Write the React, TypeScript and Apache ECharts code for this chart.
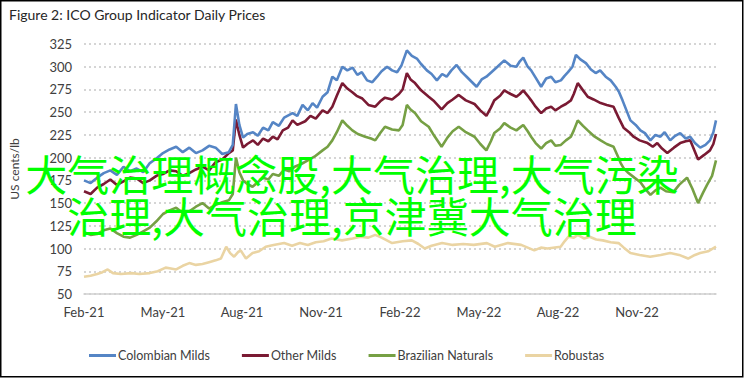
import React, { useEffect, useRef } from "react";
import * as echarts from "echarts";

const titleText = "Figure 2: ICO Group Indicator Daily Prices";
const yAxisName = "US cents/lb";
const overlayText = "大气治理概念股,大气治理,大气污染\n治理,大气治理,京津冀大气治理";
const seriesNames = ["Colombian Milds", "Other Milds", "Brazilian Naturals", "Robustas"];
const seriesColors = ["#5585C5", "#7A1A33", "#76A044", "#EAD4A3"];
// x tick labels: one every 3 months, x value = months since Feb-21
const xTickLabels = ["Feb-21", "May-21", "Aug-21", "Nov-21", "Feb-22", "May-22", "Aug-22", "Nov-22", "Feb-23"];

const colombianMilds: [number, number][] = [
  [0,175],[0.25,172],[0.5,178],[0.75,183],[1,186],[1.25,181],[1.5,190],[1.75,185],[2,188],[2.25,184],[2.5,194],[2.75,199],[3,205],[3.25,209],[3.5,212],[3.75,206],[4,211],[4.25,205],[4.5,208],[4.75,213],[5,211],[5.25,204],[5.5,206],[5.65,214],[5.77,259],[5.9,236],[6.04,222],[6.2,226],[6.42,228],[6.6,224],[6.8,233],[7.0,230],[7.17,239],[7.4,235],[7.6,244],[7.92,249],[8.1,246],[8.3,258],[8.5,252],[8.68,260],[8.85,255],[9.06,267],[9.25,272],[9.43,289],[9.6,285],[9.81,300],[10.0,296],[10.2,299],[10.38,291],[10.55,294],[10.75,285],[10.95,283],[11.13,289],[11.3,295],[11.51,300],[11.7,296],[11.89,294],[12.05,301],[12.26,318],[12.45,312],[12.64,309],[12.8,303],[13.02,296],[13.2,292],[13.4,285],[13.6,292],[13.77,289],[13.95,296],[14.15,302],[14.35,294],[14.53,289],[14.7,284],[14.91,278],[15.1,286],[15.28,289],[15.47,294],[15.7,300],[15.96,307],[16.2,301],[16.42,300],[16.55,306],[16.68,310],[16.85,300],[16.98,296],[17.15,288],[17.36,278],[17.55,287],[17.74,289],[17.9,283],[18.11,285],[18.25,290],[18.38,294],[18.55,300],[18.68,313],[18.85,308],[19.06,304],[19.25,297],[19.43,293],[19.6,296],[19.81,289],[20.0,285],[20.19,278],[20.32,272],[20.45,263],[20.6,252],[20.75,241],[20.95,236],[21.13,230],[21.3,227],[21.51,219],[21.7,225],[21.89,223],[22.05,228],[22.26,219],[22.45,224],[22.64,227],[22.85,221],[23.02,223],[23.2,216],[23.4,211],[23.6,214],[23.77,219],[23.9,228],[24,241]
];

const otherMilds: [number, number][] = [
  [0,163],[0.25,160],[0.5,167],[0.75,171],[1,176],[1.25,170],[1.5,174],[1.75,178],[2,177],[2.25,172],[2.5,175],[2.75,180],[3,182],[3.25,186],[3.5,185],[3.75,180],[4,183],[4.25,187],[4.5,190],[4.75,186],[5,195],[5.25,198],[5.5,205],[5.65,208],[5.77,242],[5.9,225],[6.04,211],[6.2,215],[6.42,219],[6.6,214],[6.8,221],[7.0,218],[7.17,223],[7.35,220],[7.55,230],[7.75,233],[7.92,241],[8.1,236],[8.4,240],[8.6,246],[8.8,243],[9.06,252],[9.25,249],[9.43,256],[9.6,268],[9.81,282],[10.0,276],[10.19,272],[10.35,268],[10.57,265],[10.8,258],[11.06,256],[11.25,262],[11.43,266],[11.7,264],[11.96,270],[12.1,275],[12.26,293],[12.4,286],[12.57,282],[12.8,274],[13.09,267],[13.3,262],[13.58,253],[13.8,260],[14.0,264],[14.23,269],[14.5,263],[14.83,259],[15.05,252],[15.28,246],[15.45,255],[15.58,263],[15.8,268],[15.96,274],[16.2,270],[16.42,267],[16.55,270],[16.68,274],[16.85,268],[16.98,263],[17.15,256],[17.36,249],[17.55,254],[17.74,256],[17.9,252],[18.11,256],[18.3,259],[18.49,263],[18.6,270],[18.75,282],[18.95,274],[19.13,267],[19.35,264],[19.62,260],[19.85,258],[20.11,256],[20.3,244],[20.49,233],[20.7,228],[20.87,223],[21.1,219],[21.4,216],[21.6,212],[21.77,216],[21.95,210],[22.15,205],[22.4,211],[22.64,216],[22.85,218],[23.02,219],[23.15,210],[23.32,198],[23.55,203],[23.77,208],[23.9,215],[24,226]
];

const brazilianNaturals: [number, number][] = [
  [0,118],[0.25,115],[0.5,116],[0.75,120],[1,122],[1.25,117],[1.5,113],[1.75,112],[2,115],[2.25,119],[2.5,123],[2.75,130],[3,138],[3.25,142],[3.5,145],[3.75,139],[4,141],[4.25,146],[4.5,150],[4.75,144],[5,148],[5.25,151],[5.5,153],[5.65,160],[5.77,200],[5.9,184],[6.04,175],[6.2,171],[6.4,168],[6.6,173],[6.8,178],[7.0,176],[7.17,182],[7.4,180],[7.6,187],[7.8,185],[8.0,190],[8.25,193],[8.5,197],[8.75,201],[9.06,208],[9.25,212],[9.43,219],[9.6,228],[9.81,241],[10.0,235],[10.19,230],[10.4,226],[10.68,223],[10.9,221],[11.06,219],[11.25,227],[11.43,234],[11.7,231],[11.96,230],[12.1,236],[12.26,258],[12.4,253],[12.57,249],[12.8,240],[13.09,234],[13.3,224],[13.58,212],[13.8,222],[14.0,229],[14.23,234],[14.5,228],[14.83,223],[15.05,215],[15.28,208],[15.45,218],[15.58,227],[15.8,232],[15.96,238],[16.2,233],[16.42,230],[16.55,233],[16.68,236],[16.85,229],[16.98,223],[17.15,216],[17.36,210],[17.55,216],[17.74,219],[17.9,213],[18.11,214],[18.3,219],[18.49,223],[18.6,230],[18.75,241],[18.95,235],[19.13,230],[19.35,224],[19.62,219],[19.85,215],[20.11,212],[20.25,203],[20.38,194],[20.5,188],[20.64,184],[20.9,178],[21.13,173],[21.3,166],[21.51,159],[21.7,164],[21.89,167],[22.1,163],[22.38,162],[22.6,170],[22.9,178],[23.1,166],[23.32,150],[23.5,161],[23.66,170],[23.85,180],[24,197]
];

const robustas: [number, number][] = [
  [0,69],[0.25,70],[0.5,72],[0.7,74],[0.9,77],[1.1,73],[1.4,72],[1.8,73],[2.1,72],[2.5,73],[2.8,75],[3.1,79],[3.3,78],[3.5,77],[3.75,81],[4.0,84],[4.25,82],[4.5,83],[4.75,85],[5.0,87],[5.2,89],[5.4,102],[5.55,95],[5.7,91],[5.85,96],[5.95,98],[6.15,89],[6.4,95],[6.65,97],[6.9,102],[7.2,104],[7.6,106],[7.9,103],[8.2,106],[8.5,104],[8.8,107],[9.1,108],[9.4,111],[9.8,109],[10.2,111],[10.5,113],[10.8,112],[11.06,115],[11.3,112],[11.7,106],[12.1,108],[12.45,109],[12.7,105],[12.94,100],[13.2,103],[13.6,106],[14.0,104],[14.4,105],[14.8,104],[15.3,106],[15.6,102],[16.1,106],[16.6,104],[17.1,98],[17.35,101],[17.6,100],[18.1,102],[18.25,108],[18.4,113],[18.6,112],[18.75,115],[19.0,111],[19.2,113],[19.45,110],[19.7,109],[20.0,107],[20.3,106],[20.5,101],[20.75,95],[21.1,93],[21.5,91],[21.9,93],[22.26,95],[22.6,93],[22.94,89],[23.2,93],[23.4,95],[23.7,97],[24,102]
];

const seriesData = [colombianMilds, otherMilds, brazilianNaturals, robustas];

const FONT = "Lato, 'DejaVu Sans', sans-serif";

export default function App() {
  const ref = useRef<HTMLDivElement>(null);
  useEffect(() => {
    if (!ref.current) return;
    const chart = echarts.init(ref.current, null, { renderer: "svg" });
    chart.setOption({
      animation: false,
      backgroundColor: "#ffffff",
      title: {
        text: titleText,
        left: 4,
        top: 2,
        textStyle: { fontFamily: FONT, fontSize: 14, fontWeight: "normal", color: "#262626" },
      },
      grid: { left: 80, right: 29, top: 44, bottom: 84, containLabel: false },
      xAxis: {
        type: "value",
        min: 0,
        max: 24,
        interval: 3,
        axisLine: { show: true, lineStyle: { color: "#D0D0D0", width: 1.5 } },
        axisTick: { show: false },
        splitLine: { show: false },
        axisLabel: {
          margin: 11,
          showMaxLabel: false,
          fontFamily: FONT,
          fontSize: 13,
          color: "#404040",
          formatter: (v: number) => xTickLabels[Math.round(v / 3)] ?? "",
        },
      },
      yAxis: {
        type: "value",
        min: 50,
        max: 325,
        interval: 25,
        name: yAxisName,
        nameLocation: "middle",
        nameGap: 64,
        nameTextStyle: { fontFamily: FONT, fontSize: 12, color: "#404040" },
        axisLine: { show: false },
        axisTick: { show: false },
        axisLabel: { margin: 12, fontFamily: FONT, fontSize: 13, color: "#404040" },
        splitLine: {
          show: true,
          lineStyle: { color: "#C8C8C8", type: [2, 3], width: 1.5 },
        },
      },
      legend: {
        left: 84,
        top: 344,
        itemWidth: 27,
        itemHeight: 3,
        itemGap: 32,
        icon: "rect",
        textStyle: { fontFamily: FONT, fontSize: 12.5, color: "#404040", padding: [0, 0, 0, -3] },
        data: seriesNames,
      },
      series: seriesNames.map((name, i) => ({
        name,
        type: "line",
        data: seriesData[i],
        showSymbol: false,
        symbol: "none",
        color: seriesColors[i],
        lineStyle: { width: 2.6, color: seriesColors[i] },
        z: 2 + (3 - i),
      })),
      graphic: [
        {
          type: "text",
          x: 352,
          y: 193,
          z: 100,
          style: {
            text: overlayText,
            fill: "#00FF00",
            fontSize: 42,
            lineHeight: 42,
            fontFamily: "'Noto Sans CJK SC', sans-serif",
            textAlign: "center",
            textVerticalAlign: "middle",
          },
        },
        {
          type: "rect",
          z: 100,
          shape: { x: 0.75, y: 0.75, width: 742, height: 376 },
          style: { fill: "none", stroke: "#000000", lineWidth: 1.5 },
        },
      ],
    });
    return () => chart.dispose();
  }, []);
  return (
    <div
      ref={ref}
      style={{ position: "absolute", left: 0, top: 0, width: 745, height: 378 }}
    />
  );
}
